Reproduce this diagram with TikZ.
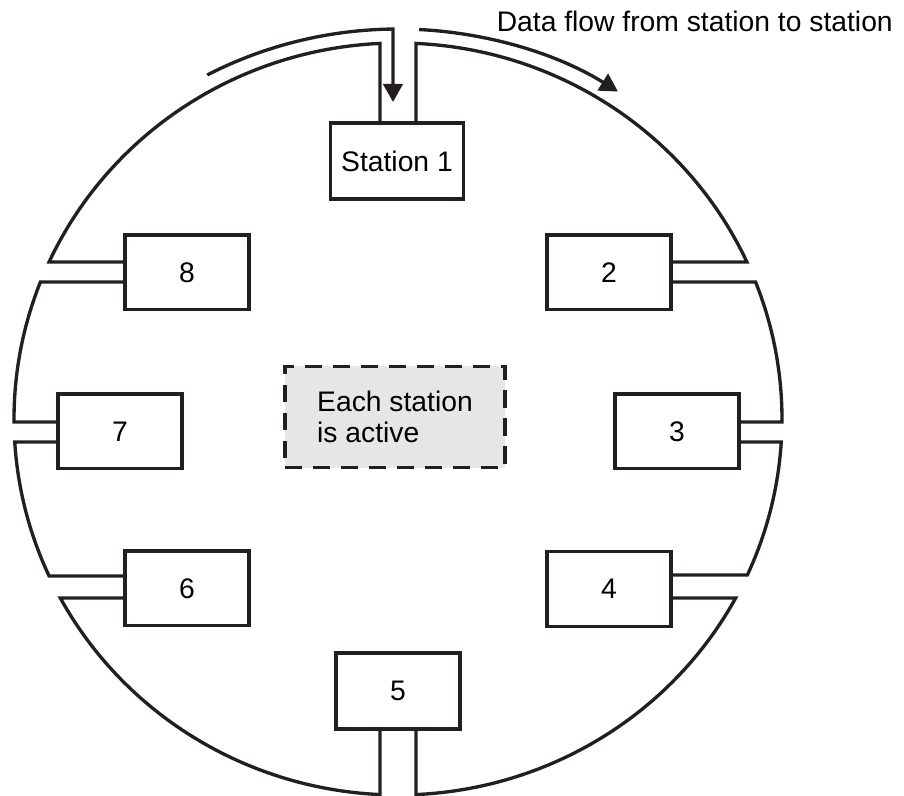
\documentclass[tikz,border=0pt]{standalone}
\usepackage{fontspec}
\setmainfont{Liberation Sans}
\usetikzlibrary{arrows.meta}
\definecolor{ink}{HTML}{231F20}
\definecolor{shade}{HTML}{E6E6E7}

\begin{document}
\begin{tikzpicture}[x=0.75pt,y=0.75pt,font=\fontsize{21.2}{23.3}\selectfont,
  stn/.style={draw=ink,line width=2.5pt,fill=white,minimum width=93pt,minimum height=56pt,inner sep=0pt},
  ring/.style={draw=ink,line width=2.5pt},
  flow/.style={draw=ink,line width=2.5pt,-{Triangle[length=13.5pt,width=14.5pt]}},
  note/.style={draw=ink,line width=2.5pt,dash pattern=on 13pt off 8pt,fill=shade,minimum width=165pt,minimum height=76pt,align=left,inner sep=0pt}]
  \useasboundingbox (-398,-377) rectangle (506,419);
  \def\rx{384} \def\ry{376}

  % ===== stations =====
  \node[stn,minimum width=100pt,minimum height=57pt] (s1) at (-1,258) {Station 1};
  \node[stn] (s2) at (211,146.5) {2};
  \node[stn] (s3) at (279,-12.5) {3};
  \node[stn] (s4) at (211,-170) {4};
  \node[stn,minimum height=57pt] (s5) at (0,-272) {5};
  \node[stn] (s6) at (-211,-169.5) {6};
  \node[stn] (s7) at (-278,-12.5) {7};
  \node[stn] (s8) at (-211,146.5) {8};
  \node[note] (act) at (-3,2) {Each station\\is active};
  \node[anchor=base east,inner sep=0pt] (title) at (495,387) {Data flow from station to station};

  % ===== taps on the ring (ellipse angles) =====
  \pgfmathsetmacro\tOneR{acos(18/\rx)}
  \pgfmathsetmacro\tOneL{acos(-18/\rx)}
  \pgfmathsetmacro\tTwoA{asin(157/\ry)}
  \pgfmathsetmacro\tTwoB{asin(137/\ry)}
  \pgfmathsetmacro\tThreeA{asin(-3/\ry)}
  \pgfmathsetmacro\tThreeB{asin(-23/\ry)}
  \pgfmathsetmacro\tFourA{asin(-156/\ry)}
  \pgfmathsetmacro\tFourB{asin(-179/\ry)}
  \pgfmathsetmacro\tFiveR{-acos(18/\rx)}
  \pgfmathsetmacro\tFiveL{-acos(-18/\rx)}
  \pgfmathsetmacro\tSixB{-180-asin(-179/\ry)}
  \pgfmathsetmacro\tSixA{-180-asin(-157/\ry)}
  \pgfmathsetmacro\tSevenB{-180-asin(-23/\ry)}
  \pgfmathsetmacro\tSevenA{-180-asin(-3/\ry)}
  \pgfmathsetmacro\tEightB{-180-asin(137/\ry)}
  \pgfmathsetmacro\tEightA{180-asin(157/\ry)}
  \coordinate (r1r) at ({\rx*cos(\tOneR)},{\ry*sin(\tOneR)});
  \coordinate (r1l) at ({\rx*cos(\tOneL)},{\ry*sin(\tOneL)});
  \coordinate (r2a) at ({\rx*cos(\tTwoA)},{\ry*sin(\tTwoA)});
  \coordinate (r2b) at ({\rx*cos(\tTwoB)},{\ry*sin(\tTwoB)});
  \coordinate (r3a) at ({\rx*cos(\tThreeA)},{\ry*sin(\tThreeA)});
  \coordinate (r3b) at ({\rx*cos(\tThreeB)},{\ry*sin(\tThreeB)});
  \coordinate (r4a) at ({\rx*cos(\tFourA)},{\ry*sin(\tFourA)});
  \coordinate (r4b) at ({\rx*cos(\tFourB)},{\ry*sin(\tFourB)});
  \coordinate (r5r) at ({\rx*cos(\tFiveR)},{\ry*sin(\tFiveR)});
  \coordinate (r5l) at ({\rx*cos(\tFiveL)},{\ry*sin(\tFiveL)});
  \coordinate (r6a) at ({\rx*cos(\tSixA)},{\ry*sin(\tSixA)});
  \coordinate (r6b) at ({\rx*cos(\tSixB)},{\ry*sin(\tSixB)});
  \coordinate (r7a) at ({\rx*cos(\tSevenA)},{\ry*sin(\tSevenA)});
  \coordinate (r7b) at ({\rx*cos(\tSevenB)},{\ry*sin(\tSevenB)});
  \coordinate (r8a) at ({\rx*cos(\tEightA)},{\ry*sin(\tEightA)});
  \coordinate (r8b) at ({\rx*cos(\tEightB)},{\ry*sin(\tEightB)});

  % ===== ring segments =====
  \draw[ring] (s1.north -| r1r) -- (r1r) arc[start angle=\tOneR, end angle=\tTwoA, x radius=\rx, y radius=\ry] -- (s2.east |- r2a);
  \draw[ring] (s2.east |- r2b) -- (r2b) arc[start angle=\tTwoB, end angle=\tThreeA, x radius=\rx, y radius=\ry] -- (s3.east |- r3a);
  \draw[ring] (s3.east |- r3b) -- (r3b) arc[start angle=\tThreeB, end angle=\tFourA, x radius=\rx, y radius=\ry] -- (s4.east |- r4a);
  \draw[ring] (s4.east |- r4b) -- (r4b) arc[start angle=\tFourB, end angle=\tFiveR, x radius=\rx, y radius=\ry] -- (s5.south -| r5r);
  \draw[ring] (s5.south -| r5l) -- (r5l) arc[start angle=\tFiveL, end angle=\tSixB, x radius=\rx, y radius=\ry] -- (s6.west |- r6b);
  \draw[ring] (s6.west |- r6a) -- (r6a) arc[start angle=\tSixA, end angle=\tSevenB, x radius=\rx, y radius=\ry] -- (s7.west |- r7b);
  \draw[ring] (s7.west |- r7a) -- (r7a) arc[start angle=\tSevenA, end angle=\tEightB, x radius=\rx, y radius=\ry] -- (s8.west |- r8b);
  \draw[ring] (s8.west |- r8a) -- (r8a) arc[start angle=\tEightA, end angle=\tOneL, x radius=\rx, y radius=\ry] -- (s1.north -| r1l);

  % ===== data flow arrows =====
  \coordinate (flowL) at ({405*cos(118.1)},{390*sin(118.1)});
  \coordinate (flowR) at ({405*cos(87)},{390*sin(87)});
  \coordinate (inflow) at (-5,317);
  \draw[flow] (flowL) arc[start angle=118.1, end angle={acos(-5/405)}, x radius=405, y radius=390] -- (inflow);
  \draw[flow] (flowR) arc[start angle=87, end angle=57.1, x radius=405, y radius=390];
\end{tikzpicture}
\end{document}
